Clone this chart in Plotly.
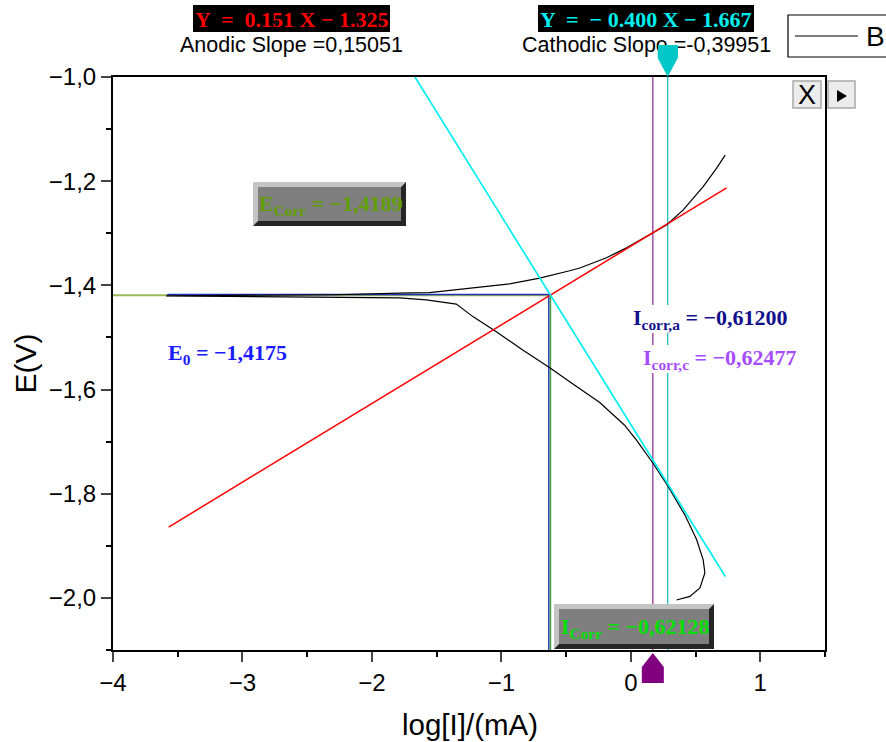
import plotly.graph_objects as go

W, H = 886, 742
L, R, T, B = 113, 825, 77, 650
X_RANGE = [-4, 1.5]
Y_RANGE = [-2.1, -1.0]

upper_x = [-3.59, -2.29, -1.787, -1.555, -1.145, -0.936, -0.704, -0.472, -0.394, -0.188, -0.033, 0.147, 0.276, 0.405, 0.559, 0.663, 0.729]
upper_y = [-1.420, -1.418, -1.415, -1.414, -1.403, -1.397, -1.386, -1.372, -1.3666, -1.347, -1.328, -1.303, -1.284, -1.255, -1.2105, -1.175, -1.150]
lower_x = [-3.59, -1.787, -1.58, -1.348, -1.22, -1.039, -0.835, -0.626, -0.472, -0.24, -0.05, 0.044, 0.17, 0.288, 0.418, 0.508, 0.559, 0.572, 0.534, 0.456, 0.353]
lower_y = [-1.420, -1.424, -1.428, -1.436, -1.46, -1.489, -1.524, -1.558, -1.585, -1.625, -1.668, -1.697, -1.741, -1.786, -1.841, -1.888, -1.927, -1.952, -1.981, -1.997, -2.004]
anodic_x = [-3.57, 0.74]
anodic_y = [-1.864, -1.213]
cathodic_x = [-1.68, 0.73]
cathodic_y = [-0.995, -1.959]
E_corr = -1.4189
E_0 = -1.4175
I_corr = -0.62128
I_corr_a = -0.612
I_mark_purple = 0.17
I_mark_cyan = 0.285
x_ticks = [-4, -3, -2, -1, 0, 1]
y_ticks = [-1.0, -1.2, -1.4, -1.6, -1.8, -2.0]

curve_x = upper_x[::-1] + lower_x
curve_y = upper_y[::-1] + lower_y

fig = go.Figure()


def line(x, y, color, width=1.2, name=""):
    fig.add_trace(go.Scatter(x=x, y=y, mode="lines", line=dict(color=color, width=width),
                             name=name, showlegend=False, hoverinfo="skip"))


line([-4, I_corr], [E_corr, E_corr], "#9bbb59", 2)
line([-3.58, I_corr], [E_0, E_0], "#2030c0", 1.5)
line([I_corr, I_corr], [E_corr, -2.1], "#40a040", 1.6)
line([I_corr_a - 0.022, I_corr_a - 0.022], [E_corr, -2.1], "#2030c0", 1.3)
line([I_mark_purple, I_mark_purple], [-1.0, -2.1], "#a040a0", 1.4)
line([I_mark_cyan, I_mark_cyan], [-1.0, -2.1], "#20c0c0", 1.3)
line(curve_x, curve_y, "#000000", 1.2, name="B")
line(anodic_x, anodic_y, "#ff0000", 1.5)
line(cathodic_x, cathodic_y, "#00eeee", 1.7)


def px(v):
    return (v - L) / (R - L)


def py(v):
    return (B - v) / (B - T)


shapes = []


def rect(x0, y0, x1, y1, fill, line_color=None, width=1):
    shapes.append(dict(type="rect", xref="paper", yref="paper", x0=px(x0), x1=px(x1), y0=py(y1), y1=py(y0),
                       fillcolor=fill, line=dict(color=line_color or fill, width=width if line_color else 0)))


def bevel(x0, y0, x1, y1):
    rect(x0, y0, x1, y1, "#c4c4c4")
    shapes.append(dict(type="path", xref="paper", yref="paper", fillcolor="#262626", line=dict(width=0),
                       path=f"M {px(x1)} {py(y0)} L {px(x1)} {py(y1)} L {px(x0)} {py(y1)} "
                            f"L {px(x0+5)} {py(y1-5)} L {px(x1-5)} {py(y1-5)} L {px(x1-5)} {py(y0+5)} Z"))
    rect(x0 + 5, y0 + 5, x1 - 5, y1 - 5, "#7f7f7f")


rect(193, 5, 390, 32, "#000000")
rect(538, 5, 754, 32, "#000000")
bevel(253, 182, 406, 226)
bevel(554, 604, 714, 649)
# marker glyphs anchored to the axis positions (not clipped because paper-referenced)
shapes.append(dict(type="path", xref="paper", yref="paper", xsizemode="pixel", ysizemode="pixel",
                   xanchor=(I_mark_purple - X_RANGE[0]) / (X_RANGE[1] - X_RANGE[0]), yanchor=0,
                   fillcolor="#800080", line=dict(width=0),
                   path="M 0 -3 L 11 -17 L 11 -33 L -11 -33 L -11 -17 Z"))
shapes.append(dict(type="path", xref="paper", yref="paper", xsizemode="pixel", ysizemode="pixel",
                   xanchor=(I_mark_cyan - X_RANGE[0]) / (X_RANGE[1] - X_RANGE[0]), yanchor=1,
                   fillcolor="#00c8c8", line=dict(width=0),
                   path="M 0 0 L 10 19 L 10 32 L -10 32 L -10 19 Z"))
# toolbar buttons
for x0, x1 in [(793, 821), (828, 855)]:
    shapes.append(dict(type="rect", xref="paper", yref="paper", x0=px(x0), x1=px(x1), y0=py(108), y1=py(81),
                       fillcolor="#ececec", line=dict(color="#a8a8a8", width=1.5)))
shapes.append(dict(type="path", xref="paper", yref="paper", fillcolor="#000000", line=dict(width=0),
                   path=f"M {px(837)} {py(90)} L {px(847)} {py(96)} L {px(837)} {py(102)} Z"))
# legend box
rect(788, 15, 895, 57, "#ffffff", "#000000", 1.2)
shapes.append(dict(type="line", xref="paper", yref="paper", x0=px(795), x1=px(858), y0=py(36), y1=py(36),
                   line=dict(color="#000000", width=1)))

serif = "Liberation Serif"
sans = "Liberation Sans"
M = "\u2212"


def note(x, y, text, color, size=22, family=serif, anchor="left", bold=True, bg=None):
    t = f"<b>{text}</b>" if bold else text
    fig.add_annotation(xref="paper", yref="paper", x=px(x), y=py(y), text=t, showarrow=False,
                       xanchor=anchor, yanchor="middle", borderpad=0, borderwidth=0,
                       bgcolor=bg or "rgba(0,0,0,0)", font=dict(color=color, size=size, family=family))


note(291.5, 19, f"Y  =  0.151 X {M} 1.325", "#ff0000", 22, anchor="center")
note(646, 19, f"Y  =  {M} 0.400 X {M} 1.667", "#00eeee", 22, anchor="center")
note(291, 45, "Anodic Slope =0,15051", "#000000", 21.5, sans, "center", bold=False)
note(646, 45, "Cathodic Slope =-0,39951", "#000000", 21.5, sans, "center", bold=False)
note(259, 205, f"E<sub>Corr</sub> = {M}1,4189", "#5f9e00", 22)
note(561, 628, f"I<sub>Corr</sub> = {M}0,62128", "#00e000", 22)
note(168, 354, f"E<sub>0</sub> = {M}1,4175", "#1a1aff", 22)
note(633, 319, f"I<sub>corr,a</sub> = {M}0,61200", "#10108c", 22, bg="#ffffff")
note(643, 359, f"I<sub>corr,c</sub> = {M}0,62477", "#a64dff", 22, bg="#ffffff")
note(807, 95, "X", "#000000", 27, sans, "center", bold=False)
note(866, 36, "B", "#000000", 28, sans, bold=False)
note(469.5, 724, "log[I]/(mA)", "#000000", 29.5, sans, "center", bold=False)

# body of the cyan marker glyph, which covers the Cathodic Slope text: a filled blank annotation is drawn over it
fig.add_annotation(xref="paper", yref="paper",
                   x=(I_mark_cyan - X_RANGE[0]) / (X_RANGE[1] - X_RANGE[0]), y=py(51.5),
                   text=" ", showarrow=False, xanchor="center", yanchor="middle", width=20, height=13,
                   borderpad=0, borderwidth=0, bgcolor="#00c8c8", font=dict(size=8))

fig.update_layout(
    width=W, height=H, autosize=False, separators=", ",
    margin=dict(l=L, r=W - R, t=T, b=H - B, pad=0),
    plot_bgcolor="#ffffff", paper_bgcolor="#ffffff",
    font=dict(family=sans, color="#000000"),
    shapes=shapes,
    showlegend=False,
    xaxis=dict(range=X_RANGE, tickvals=x_ticks, ticks="outside", ticklen=10, tickwidth=2,
               showgrid=False, zeroline=False, showline=True, linecolor="#000000", linewidth=2, mirror=True,
               tickfont=dict(size=24),
               minor=dict(dtick=0.5, tick0=-4, ticks="outside", ticklen=5, tickwidth=2, tickcolor="#000000", showgrid=False)),
    yaxis=dict(range=Y_RANGE, tickvals=y_ticks, tickformat=".1f", ticks="outside", ticklen=10, tickwidth=2,
               showgrid=False, zeroline=False, showline=True, linecolor="#000000", linewidth=2, mirror=True,
               tickfont=dict(size=24), title=dict(text="E(V)", font=dict(size=30), standoff=3),
               minor=dict(dtick=0.1, tick0=-2.1, ticks="outside", ticklen=5, tickwidth=2, tickcolor="#000000", showgrid=False)),
)

fig.write_html("out.html", post_script="document.body.style.margin='0';", config=dict(displayModeBar=False))
